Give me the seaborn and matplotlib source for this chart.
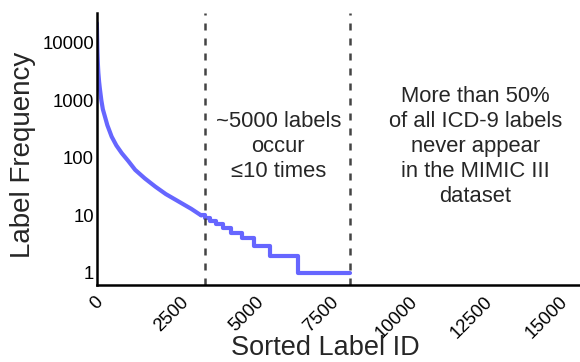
import pandas as pd
import matplotlib
matplotlib.use("Agg")
import matplotlib.pyplot as plt
import seaborn as sns

# smooth head of the sorted frequency curve
curve_ids = [0, 10, 20, 35, 50, 75, 100, 150, 200, 269, 350, 494, 650, 830,
             1050, 1277, 1600, 1949, 2300, 2732, 3150, 3480]
curve_freq = [22000, 12000, 7000, 4200, 3000, 2100, 1600, 1000, 700, 523,
              370, 234, 165, 121, 88, 62, 44, 31.7, 23.5, 17.4, 13, 10]

# integer-count tail (steps)
step_ids = [3480, 3600, 3760, 3970, 4210, 4490, 4830, 5250, 5790, 6710, 8450]
step_freq = [10, 9, 8, 7, 6, 5, 4, 3, 2, 1, 1]

cutoffs = [3620, 8440]
xticks = [0, 2500, 5000, 7500, 10000, 12500, 15000]
yticks = [1, 10, 100, 1000, 10000]

sns.set_style("white")
plt.rcParams['font.family'] = ['Liberation Sans', 'DejaVu Sans']

df_curve = pd.DataFrame({"id": curve_ids, "freq": curve_freq})
df_step = pd.DataFrame({"id": step_ids, "freq": step_freq})

fig = plt.figure(figsize=(5.8, 3.62), dpi=100)
ax = fig.add_axes([0.167, 0.213, 0.84, 0.751])

line_color = "#6666ff"
sns.lineplot(data=df_curve, x="id", y="freq", ax=ax, color=line_color,
             linewidth=3, estimator=None, sort=False)
sns.lineplot(data=df_step, x="id", y="freq", ax=ax, color=line_color,
             linewidth=3, estimator=None, sort=False, drawstyle="steps-post")

for c in cutoffs:
    ax.axvline(c, color="#444444", linewidth=1.8, linestyle=(0, (2.8, 3.2)))

ax.set_yscale("log")
ax.set_xlim(0, 16250)
ax.set_ylim(0.62, 33000)
ax.set_xticks(xticks)
ax.set_xticklabels([str(t) for t in xticks], rotation=45, ha="center")
ax.set_yticks(yticks)
ax.set_yticklabels([str(t) for t in yticks])
ax.minorticks_off()
ax.tick_params(axis="both", length=0, labelsize=13.3, colors="black")
ax.tick_params(axis="y", pad=2)
ax.tick_params(axis="x", pad=6)

ax.set_xlabel("Sorted Label ID", fontsize=19.5)
ax.set_ylabel("Label Frequency", fontsize=20)
ax.xaxis.set_label_coords(0.468, -0.185)
ax.yaxis.set_label_coords(-0.124, 0.48)

ax.text(6050, 155, "~5000 labels\noccur\n\u226410 times", ha="center",
        va="center", fontsize=15.8, linespacing=1.25)
ax.text(12630, 155, "More than 50%\nof all ICD-9 labels\nnever appear\nin the MIMIC III\ndataset",
        ha="center", va="center", fontsize=15.8, linespacing=1.25)

sns.despine(ax=ax)
for s in ["left", "bottom"]:
    ax.spines[s].set_color("black")
    ax.spines[s].set_linewidth(1.8)

fig.savefig("out.png", dpi=100)
